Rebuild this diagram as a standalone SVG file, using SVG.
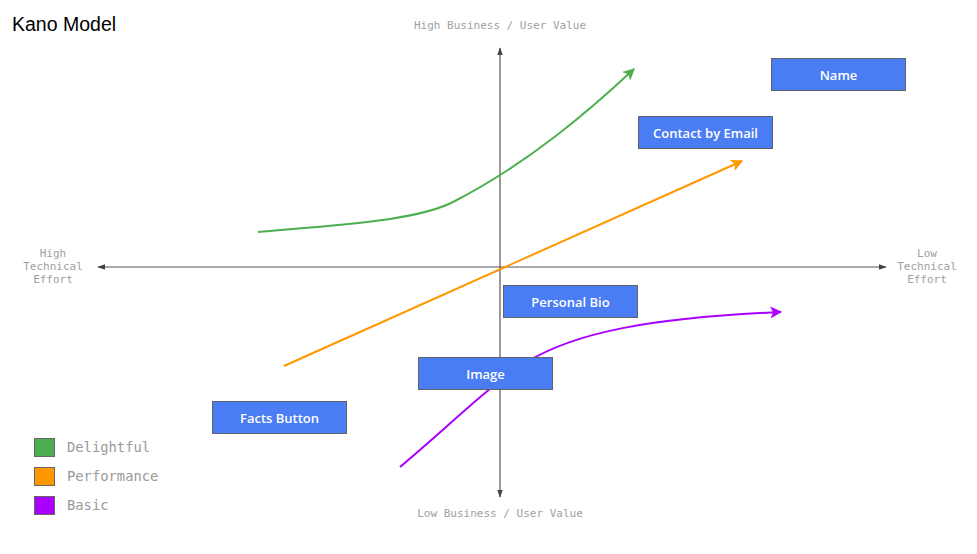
<svg xmlns="http://www.w3.org/2000/svg" width="977" height="554" viewBox="0 0 977 554">
<style>
.ax{fill:none;stroke:#555;stroke-width:1.2}
.lbl{font-family:"DejaVu Sans Mono","Liberation Mono",monospace;font-size:11px;fill:#a0a0a0;text-anchor:middle}
.leg{font-family:"DejaVu Sans Mono","Liberation Mono",monospace;font-size:13.8px;fill:#9a9a9a}
.box{fill:#4a7cf3;stroke:#5f6368;stroke-width:1}
.bt{font-family:"Open Sans","Noto Sans",sans-serif;font-size:13px;font-weight:600;fill:#fff;text-anchor:middle}
.cv{fill:none;stroke-width:2}
</style>
<defs>
<marker id="ah" viewBox="0 0 10 10" refX="9" refY="5" markerWidth="8" markerHeight="8" orient="auto-start-reverse" markerUnits="userSpaceOnUse"><path d="M0,1.5 L10,5 L0,8.5 Z" fill="#444"/></marker>
<marker id="ag" viewBox="0 0 10 10" refX="9" refY="5" markerWidth="12" markerHeight="12" orient="auto" markerUnits="userSpaceOnUse"><path d="M0,0 L10,5 L0,10 L2.5,5 Z" fill="#4caf50"/></marker>
<marker id="ao" viewBox="0 0 10 10" refX="9" refY="5" markerWidth="12" markerHeight="12" orient="auto" markerUnits="userSpaceOnUse"><path d="M0,0 L10,5 L0,10 L2.5,5 Z" fill="#ff9800"/></marker>
<marker id="ap" viewBox="0 0 10 10" refX="9" refY="5" markerWidth="12" markerHeight="12" orient="auto" markerUnits="userSpaceOnUse"><path d="M0,0 L10,5 L0,10 L2.5,5 Z" fill="#aa00ff"/></marker>
</defs>
<rect width="977" height="554" fill="#fff"/>
<text x="12" y="31" font-family="Liberation Sans,Arial,sans-serif" font-size="19.5" fill="#000">Kano Model</text>
<g id="axes">
<line class="ax" x1="500" y1="48" x2="500" y2="497" marker-start="url(#ah)" marker-end="url(#ah)"/>
<line class="ax" x1="98" y1="267" x2="886" y2="267" marker-start="url(#ah)" marker-end="url(#ah)"/>
</g>
<g id="axis-labels">
<text class="lbl" x="500" y="29">High Business / User Value</text>
<text class="lbl" x="500" y="517">Low Business / User Value</text>
<text class="lbl" x="53" y="257">High</text>
<text class="lbl" x="53" y="270">Technical</text>
<text class="lbl" x="53" y="283">Effort</text>
<text class="lbl" x="927" y="257">Low</text>
<text class="lbl" x="927" y="270">Technical</text>
<text class="lbl" x="927" y="283">Effort</text>
</g>
<g id="connectors">
<path class="cv" stroke="#4caf50" d="M258,232 C350,224 420,220 455,201 C530,162 590,110 634,69" marker-end="url(#ag)"/>
<path class="cv" stroke="#ff9800" d="M284,366 L742,161" marker-end="url(#ao)"/>
<path class="cv" stroke="#aa00ff" d="M400,467 C450,425 490,385 525,363 C575,332 650,318 781,312" marker-end="url(#ap)"/>
</g>
<g id="node-name"><rect class="box" x="771.5" y="58.5" width="134" height="32"/><text class="bt" x="838.5" y="79.5">Name</text></g>
<g id="node-contact"><rect class="box" x="638.5" y="116.5" width="134" height="32"/><text class="bt" x="705.5" y="137.5">Contact by Email</text></g>
<g id="node-bio"><rect class="box" x="503.5" y="285.5" width="134" height="32"/><text class="bt" x="570.5" y="306.5">Personal Bio</text></g>
<g id="node-image"><rect class="box" x="418.5" y="357.5" width="134" height="32"/><text class="bt" x="485.5" y="378.5">Image</text></g>
<g id="node-facts"><rect class="box" x="212.5" y="401.5" width="134" height="32"/><text class="bt" x="279.5" y="422.5">Facts Button</text></g>
<g id="legend">
<rect x="34.5" y="438.5" width="20" height="18" fill="#4caf50" stroke="#666"/>
<rect x="34.5" y="467.5" width="20" height="18" fill="#ff9800" stroke="#666"/>
<rect x="34.5" y="496.5" width="20" height="18" fill="#aa00ff" stroke="#666"/>
<text class="leg" x="67" y="452">Delightful</text>
<text class="leg" x="67" y="481">Performance</text>
<text class="leg" x="67" y="510">Basic</text>
</g>
</svg>
